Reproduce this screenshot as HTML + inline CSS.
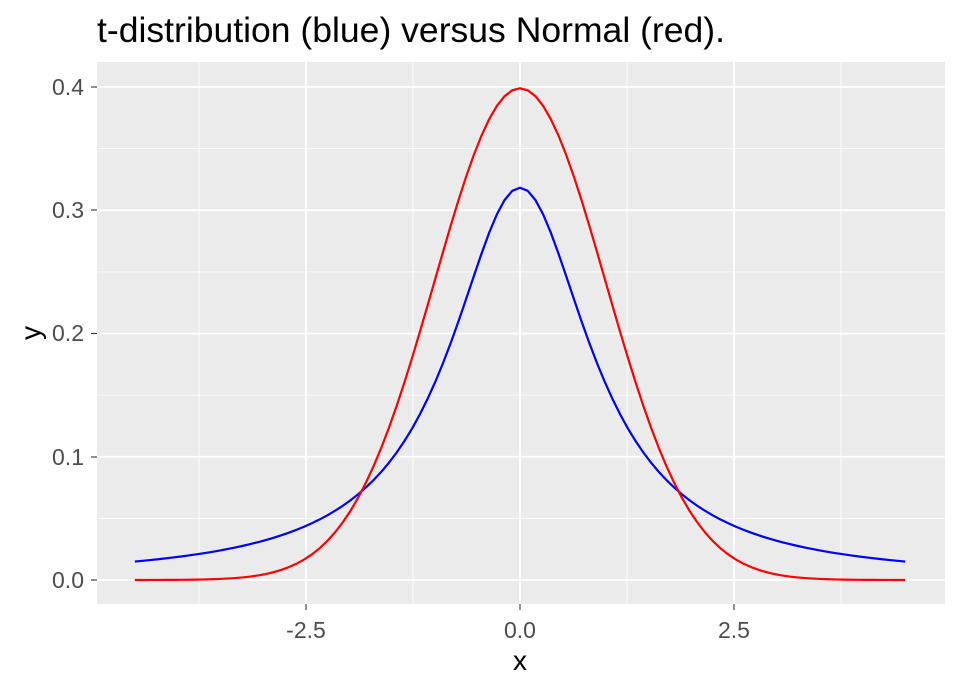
<!DOCTYPE html>
<html><head><meta charset="utf-8"><style>
body{margin:0;background:#fff}
svg{display:block;font-family:"Liberation Sans",sans-serif}
</style></head><body>
<svg id="s" width="960" height="691" xmlns="http://www.w3.org/2000/svg">
<rect width="960" height="691" fill="#fff"/>
<text x="97" y="42" font-size="35.5" fill="#000" textLength="628" lengthAdjust="spacingAndGlyphs">t-distribution (blue) versus Normal (red).</text>
<rect x="97" y="62" width="848" height="542" fill="#ebebeb"/>
<g id="grid"></g>
<path id="tc" fill="none" stroke="#0000ff" stroke-width="2.2"/>
<path id="nc" fill="none" stroke="#ff0000" stroke-width="2.2"/>
<g font-size="23" fill="#4d4d4d" text-anchor="end">
<text x="84" y="588">0.0</text>
<text x="84" y="465">0.1</text>
<text x="84" y="341">0.2</text>
<text x="84" y="218">0.3</text>
<text x="84" y="95">0.4</text>
</g>
<g font-size="23" fill="#4d4d4d" text-anchor="middle">
<text x="306" y="638">-2.5</text>
<text x="520" y="638">0.0</text>
<text x="734" y="638">2.5</text>
</g>
<g stroke="#333" stroke-width="1.1">
<line x1="91" x2="97" y1="580" y2="580"/><line x1="91" x2="97" y1="457" y2="457"/>
<line x1="91" x2="97" y1="333.5" y2="333.5"/><line x1="91" x2="97" y1="210" y2="210"/>
<line x1="91" x2="97" y1="87" y2="87"/>
<line x1="306" x2="306" y1="604" y2="610"/><line x1="520" x2="520" y1="604" y2="610"/>
<line x1="734" x2="734" y1="604" y2="610"/>
</g>
<text x="520" y="670" font-size="28" text-anchor="middle">x</text>
<text transform="translate(40,333) rotate(-90)" font-size="28" text-anchor="middle">y</text>
</svg>
<script>
var X=function(x){return 520+x*85.6},Y=function(y){return 580-y*1232.5};
var g='';
[-3.75,-1.25,1.25,3.75].forEach(function(v){g+='<line x1="'+X(v)+'" x2="'+X(v)+'" y1="62" y2="604" stroke="#fff" stroke-width="0.8"/>';});
[0.05,0.15,0.25,0.35].forEach(function(v){g+='<line y1="'+Y(v)+'" y2="'+Y(v)+'" x1="97" x2="945" stroke="#fff" stroke-width="0.8"/>';});
[-2.5,0,2.5].forEach(function(v){g+='<line x1="'+X(v)+'" x2="'+X(v)+'" y1="62" y2="604" stroke="#fff" stroke-width="1.8"/>';});
[0,0.1,0.2,0.3,0.4].forEach(function(v){g+='<line y1="'+Y(v)+'" y2="'+Y(v)+'" x1="97" x2="945" stroke="#fff" stroke-width="1.8"/>';});
document.getElementById('grid').innerHTML=g;
var t='',n='';
for(var i=0;i<=100;i++){var x=-4.5+9*i/100;
var ty=1/(Math.PI*(1+x*x)),ny=Math.exp(-x*x/2)/Math.sqrt(2*Math.PI);
t+=(i?'L':'M')+X(x).toFixed(2)+' '+Y(ty).toFixed(2);
n+=(i?'L':'M')+X(x).toFixed(2)+' '+Y(ny).toFixed(2);}
document.getElementById('tc').setAttribute('d',t);
document.getElementById('nc').setAttribute('d',n);
</script>
</body></html>
